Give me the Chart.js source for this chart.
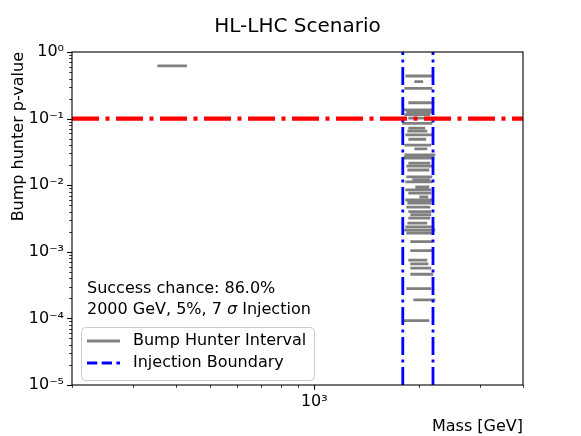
<!DOCTYPE html>
<html>
<head>
<meta charset="utf-8">
<script src="https://cdn.jsdelivr.net/npm/chart.js@4"></script>
<style>
  body { margin: 0; background: #fff; }
  canvas { display: block; }
</style>
</head>
<body>
<canvas id="bump" width="581" height="436"></canvas>
<script>
// bump hunter intervals: lower mass edge, upper mass edge, p-value
const lowMass = [356, 1848, 1962, 1836, 1885, 1811, 1860, 1836, 1885, 1811, 1885, 1873, 1848, 1885, 1836,
  1962, 1836, 1823, 1885, 1860, 1873, 1860, 1936, 1848, 1975, 1848, 1885, 2028, 1848, 1873,
  1860, 1885, 1910, 1885, 1873, 1848, 1836, 1860, 1910, 1910, 1885, 1910, 1910, 1910, 1860,
  1949, 1823];
const highMass = [425, 2184, 2042, 2169, 2169, 2169, 2184, 2141, 2169, 2169, 2070, 2098, 2169, 2084, 2154,
  2098, 2213, 2198, 2141, 2169, 2126, 2169, 2141, 2169, 2126, 2154, 2154, 2112, 2169, 2154,
  2141, 2154, 2154, 2141, 2098, 2198, 2213, 2184, 2169, 2184, 2098, 2112, 2154, 2184, 2154,
  2213, 2126];
const pValues = [0.62, 0.436, 0.358, 0.285, 0.173, 0.135, 0.125, 0.115, 0.102, 0.085, 0.072, 0.065, 0.057, 0.049, 0.040,
  0.035, 0.0284, 0.0256, 0.0215, 0.0194, 0.0169, 0.0133, 0.012, 0.0112, 0.0094, 0.0085, 0.0076, 0.0067, 0.0060, 0.0054,
  0.0047, 0.0040, 0.0036, 0.0032, 0.0027, 0.00236, 0.00212, 0.00191, 0.00142, 0.00104, 0.00075, 0.00066, 0.00057, 0.00046, 0.00028,
  0.00019, 0.0000925];

const threshold = 0.1;
const injectionBounds = [1800, 2200];
const massRange = [200, 4000];
const pRange = [1e-5, 1];
const xTickValues = [200, 300, 400, 500, 600, 700, 800, 900, 1000, 2000, 3000, 4000];
const yDecades = [-5, -4, -3, -2, -1, 0];
const supers = { '0': '⁰', '1': '¹', '2': '²', '3': '³', '4': '⁴', '5': '⁵', '-': '⁻' };

const FONT = "'DejaVu Sans', sans-serif";
const sup = n => '10' + String(n).split('').map(c => supers[c]).join('');

let yTickValues = [];
yDecades.forEach(d => {
  if (d === 0) { yTickValues.push(1); return; }
  for (let k = 1; k <= 9; k++) yTickValues.push(k * Math.pow(10, d));
});

// one dataset, intervals separated by gaps
const intervalPts = [];
lowMass.forEach((lo, i) => {
  intervalPts.push({ x: lo, y: pValues[i] });
  intervalPts.push({ x: highMass[i], y: pValues[i] });
  intervalPts.push({ x: highMass[i], y: null });
});

const ctxEl = document.getElementById('bump');

const extras = {
  id: 'extras',
  afterDraw(chart) {
    const { ctx, chartArea: a, scales: { x, y } } = chart;
    ctx.save();
    // tick marks
    ctx.strokeStyle = '#000';
    yTickValues.forEach(v => {
      const py = Math.round(y.getPixelForValue(v)) + 0.5;
      const major = Math.abs(Math.log10(v) - Math.round(Math.log10(v))) < 1e-9;
      ctx.lineWidth = major ? 1.1 : 0.8;
      ctx.beginPath();
      ctx.moveTo(a.left, py);
      ctx.lineTo(a.left - (major ? 4.9 : 2.8), py);
      ctx.stroke();
    });
    xTickValues.forEach(v => {
      const px = Math.round(x.getPixelForValue(v)) + 0.5;
      const major = v === 1000;
      ctx.lineWidth = major ? 1.1 : 0.8;
      ctx.beginPath();
      ctx.moveTo(px, a.bottom);
      ctx.lineTo(px, a.bottom + (major ? 4.9 : 2.8));
      ctx.stroke();
    });
    // frame
    ctx.lineWidth = 1.1;
    ctx.strokeRect(a.left, a.top, a.right - a.left, a.bottom - a.top);

    // annotation text
    ctx.fillStyle = '#000';
    ctx.textBaseline = 'middle';
    ctx.textAlign = 'left';
    ctx.font = '16px ' + FONT;
    ctx.fillText('Success chance: 86.0%', 87, 289);
    let tx = 87;
    const part1 = '2000 GeV, 5%, 7 ';
    ctx.fillText(part1, tx, 310);
    tx += ctx.measureText(part1).width;
    ctx.font = 'italic 16px ' + FONT;
    ctx.fillText('σ', tx, 310);
    tx += ctx.measureText('σ').width;
    ctx.font = '16px ' + FONT;
    ctx.fillText(' Injection', tx, 310);

    // legend
    const lx = 81, ly = 327, lw = 233, lh = 53;
    ctx.beginPath();
    ctx.roundRect(lx + 0.5, ly + 0.5, lw, lh, 4);
    ctx.fillStyle = 'rgba(255,255,255,0.8)';
    ctx.fill();
    ctx.strokeStyle = '#cccccc';
    ctx.lineWidth = 1;
    ctx.stroke();

    ctx.lineWidth = 2.8;
    ctx.strokeStyle = '#808080';
    ctx.beginPath();
    ctx.moveTo(87, 341);
    ctx.lineTo(120, 341);
    ctx.stroke();
    ctx.strokeStyle = '#0000ff';
    ctx.setLineDash([10.3, 4.4]);
    ctx.beginPath();
    ctx.moveTo(87, 363);
    ctx.lineTo(120, 363);
    ctx.stroke();
    ctx.setLineDash([]);

    ctx.fillStyle = '#000';
    ctx.fillText('Bump Hunter Interval', 133, 341);
    ctx.fillText('Injection Boundary', 133, 363);
    ctx.restore();
  }
};

new Chart(ctxEl, {
  type: 'scatter',
  data: {
    datasets: [
      {
        label: 'Bump Hunter Interval',
        data: intervalPts,
        showLine: true,
        spanGaps: false,
        borderColor: '#808080',
        borderWidth: 2.8,
        borderCapStyle: 'square',
        pointRadius: 0,
        order: 3
      },
      ...injectionBounds.map(m => ({
        label: 'Injection Boundary',
        data: [{ x: m, y: pRange[0] }, { x: m, y: pRange[1] }],
        showLine: true,
        borderColor: '#0000ff',
        borderWidth: 2.8,
        borderDash: [18, 4.5, 3, 4.5],
        borderCapStyle: 'butt',
        pointRadius: 0,
        order: 2
      })),
      {
        label: 'threshold',
        data: [{ x: massRange[0], y: threshold }, { x: massRange[1], y: threshold }],
        showLine: true,
        borderColor: '#ff0000',
        borderWidth: 4.2,
        borderDash: [27, 6.5, 4, 6.5],
        borderCapStyle: 'butt',
        pointRadius: 0,
        order: 1
      }
    ]
  },
  options: {
    responsive: false,
    animation: false,
    layout: { padding: { left: 0, right: 58, top: 0, bottom: 0 } },
    plugins: {
      legend: { display: false },
      tooltip: { enabled: false },
      title: {
        display: true,
        fullSize: false,
        text: 'HL-LHC Scenario',
        color: '#000',
        font: { family: FONT, size: 20, weight: 'normal' },
        padding: { top: 15, bottom: 13 }
      }
    },
    scales: {
      x: {
        type: 'logarithmic',
        min: massRange[0],
        max: massRange[1],
        afterBuildTicks: s => { s.ticks = xTickValues.map(v => ({ value: v, major: v === 1000 })); },
        afterFit: s => { s.height = 51; },
        grid: { display: false, drawTicks: false },
        border: { display: false },
        ticks: {
          autoSkip: false,
          maxRotation: 0,
          padding: 7,
          color: '#000',
          font: { family: FONT, size: 16 },
          callback: v => (v === 1000 ? sup(3) : '')
        },
        title: {
          display: true,
          text: 'Mass [GeV]',
          align: 'end',
          color: '#000',
          font: { family: FONT, size: 16 },
          padding: { top: 0, bottom: 0 }
        }
      },
      y: {
        type: 'logarithmic',
        min: pRange[0],
        max: pRange[1],
        afterBuildTicks: s => { s.ticks = yTickValues.map(v => ({ value: v })); },
        afterFit: s => { s.width = 72; },
        grid: { display: false, drawTicks: false },
        border: { display: false },
        ticks: {
          autoSkip: false,
          padding: 8,
          color: '#000',
          font: { family: FONT, size: 16 },
          callback: v => {
            const l = Math.log10(v);
            return Math.abs(l - Math.round(l)) < 1e-9 ? sup(Math.round(l)) : '';
          }
        },
        title: {
          display: true,
          text: 'Bump hunter p-value',
          align: 'end',
          color: '#000',
          font: { family: FONT, size: 16 },
          padding: { top: 9, bottom: 0 }
        }
      }
    }
  },
  plugins: [extras]
});
</script>
</body>
</html>
